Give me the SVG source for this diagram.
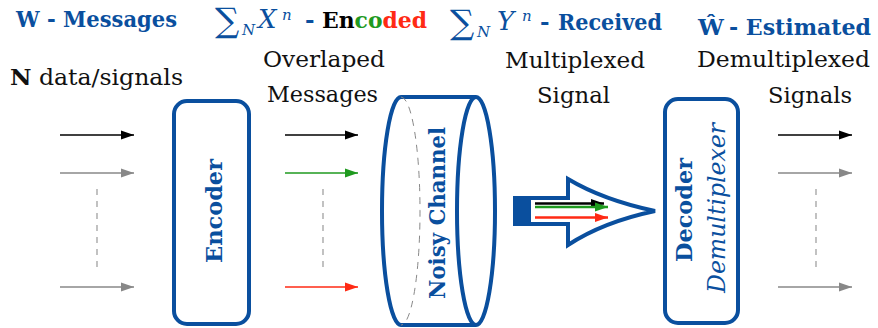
<svg xmlns="http://www.w3.org/2000/svg" width="878" height="328" viewBox="0 0 878 328">
  <defs>
    <style>
      .ttl { font-family: "DejaVu Serif", "Liberation Serif", serif; font-weight: bold; font-size: 23px; fill: #0a4f9e; }
      .mth { font-family: "DejaVu Serif", "Liberation Serif", serif; fill: #0a4f9e; }
      .it { font-style: italic; }
      .txt { font-family: "DejaVu Serif", "Liberation Serif", serif; font-size: 22px; fill: #111; }
      .lbl { font-family: "DejaVu Serif", "Liberation Serif", serif; font-weight: bold; font-size: 23px; fill: #0a4f9e; }
      .box { fill: #fff; stroke: #0a4f9e; stroke-width: 4; }
      .sig { fill: none; stroke-width: 1.6; }
      .dash { fill: none; stroke: #999; stroke-width: 1.2; stroke-dasharray: 6 6; }
    </style>
    <marker id="hk" markerUnits="userSpaceOnUse" markerWidth="14" markerHeight="12" refX="13" refY="6" orient="auto">
      <path d="M0,1.5 L13,6 L0,10.5 Z" fill="#000"/>
    </marker>
    <marker id="hg" markerUnits="userSpaceOnUse" markerWidth="14" markerHeight="12" refX="13" refY="6" orient="auto">
      <path d="M0,1.5 L13,6 L0,10.5 Z" fill="#888"/>
    </marker>
    <marker id="hn" markerUnits="userSpaceOnUse" markerWidth="14" markerHeight="12" refX="13" refY="6" orient="auto">
      <path d="M0,1.5 L13,6 L0,10.5 Z" fill="#1f9a1f"/>
    </marker>
    <marker id="hr" markerUnits="userSpaceOnUse" markerWidth="14" markerHeight="12" refX="13" refY="6" orient="auto">
      <path d="M0,1.5 L13,6 L0,10.5 Z" fill="#ff2a14"/>
    </marker>
  </defs>

  <rect width="878" height="328" fill="#fff"/>

  <!-- stage headings -->
  <g id="headings">
    <text class="ttl" x="16" y="27" textLength="161" lengthAdjust="spacingAndGlyphs">W - Messages</text>

    <text class="mth" x="215" y="32" font-size="34">∑</text>
    <text class="mth it" x="242" y="35" font-size="15">N</text>
    <text class="mth it" x="258" y="28" font-size="26">X</text>
    <text class="mth it" x="282" y="20" font-size="15">n</text>
    <text class="ttl" x="305" y="28">-</text>
    <text class="ttl" x="322" y="28" textLength="105" lengthAdjust="spacingAndGlyphs"><tspan fill="#000">En</tspan><tspan fill="#1f9a1f">co</tspan><tspan fill="#ff2a14">ded</tspan></text>

    <text class="mth" x="450" y="34" font-size="34">∑</text>
    <text class="mth it" x="477" y="37" font-size="15">N</text>
    <text class="mth it" x="497" y="30" font-size="26">Y</text>
    <text class="mth it" x="522" y="21" font-size="15">n</text>
    <text class="ttl" x="540" y="30">-</text>
    <text class="ttl" x="558" y="30" textLength="104" lengthAdjust="spacingAndGlyphs">Received</text>

    <text class="ttl" x="698" y="35">Ŵ</text>
    <text class="ttl" x="729" y="35" textLength="142" lengthAdjust="spacingAndGlyphs">- Estimated</text>
  </g>

  <!-- descriptive captions -->
  <g id="captions">
    <text class="txt" x="10" y="85" textLength="173" lengthAdjust="spacingAndGlyphs"><tspan font-weight="bold">N</tspan> data/signals</text>
    <text class="txt" x="263" y="67" textLength="122" lengthAdjust="spacingAndGlyphs">Overlaped</text>
    <text class="txt" x="267" y="102" textLength="111" lengthAdjust="spacingAndGlyphs">Messages</text>
    <text class="txt" x="505" y="68" textLength="140" lengthAdjust="spacingAndGlyphs">Multiplexed</text>
    <text class="txt" x="537" y="103" textLength="73" lengthAdjust="spacingAndGlyphs">Signal</text>
    <text class="txt" x="697" y="67" textLength="173" lengthAdjust="spacingAndGlyphs">Demultiplexed</text>
    <text class="txt" x="768" y="103" textLength="84" lengthAdjust="spacingAndGlyphs">Signals</text>
  </g>

  <!-- encoder block -->
  <g id="encoder">
    <rect class="box" x="174" y="101" width="75" height="223" rx="13"/>
    <text class="lbl" transform="translate(222,211) rotate(-90)" text-anchor="middle" textLength="104" lengthAdjust="spacingAndGlyphs">Encoder</text>
  </g>

  <!-- noisy channel drawn as a cylinder lying on its side -->
  <g id="channel">
    <path d="M401,97 L476,97 M401,325 L476,325" fill="none" stroke="#0a4f9e" stroke-width="4"/>
    <path d="M401,97 A19,114 0 0 0 401,325" fill="#fff" stroke="#0a4f9e" stroke-width="4"/>
    <path d="M401,97 A19,114 0 0 1 401,325" fill="none" stroke="#888" stroke-width="1" stroke-dasharray="7 6"/>
    <ellipse cx="476" cy="211" rx="19" ry="114" fill="#fff" stroke="#0a4f9e" stroke-width="4"/>
    <text class="lbl" transform="translate(445,213) rotate(-90)" text-anchor="middle" font-size="24" textLength="172" lengthAdjust="spacingAndGlyphs">Noisy Channel</text>
  </g>

  <!-- decoder / demultiplexer block -->
  <g id="decoder">
    <rect class="box" x="665" y="99" width="73" height="224" rx="13"/>
    <text class="lbl" transform="translate(692,210) rotate(-90)" text-anchor="middle" textLength="104" lengthAdjust="spacingAndGlyphs">Decoder</text>
    <text class="mth it" transform="translate(725,208) rotate(-90)" text-anchor="middle" font-size="24" textLength="170" lengthAdjust="spacingAndGlyphs">Demultiplexer</text>
  </g>

  <!-- signal connectors -->
  <g id="connectors">
    <!-- inputs -->
    <line class="sig" x1="60" y1="135" x2="134" y2="135" stroke="#000" marker-end="url(#hk)"/>
    <line class="sig" x1="60" y1="173" x2="134" y2="173" stroke="#888" marker-end="url(#hg)"/>
    <line class="sig" x1="60" y1="287" x2="134" y2="287" stroke="#888" marker-end="url(#hg)"/>
    <line class="dash" x1="97" y1="189" x2="97" y2="272"/>

    <!-- encoded streams -->
    <line class="sig" x1="285" y1="135" x2="358" y2="135" stroke="#000" stroke-width="2" marker-end="url(#hk)"/>
    <line class="sig" x1="285" y1="173" x2="358" y2="173" stroke="#1f9a1f" stroke-width="2" marker-end="url(#hn)"/>
    <line class="sig" x1="285" y1="287" x2="358" y2="287" stroke="#ff2a14" stroke-width="2" marker-end="url(#hr)"/>
    <line class="dash" x1="323" y1="189" x2="323" y2="272"/>

    <!-- multiplexed signal: hollow block arrow carrying the three streams -->
    <g id="multiplexed">
      <rect x="513" y="196" width="20" height="30" fill="#0a4f9e"/>
      <path d="M531,198 L568,198 L568,179 Q603,200 655,211 Q603,222 568,245 L568,224 L531,224" fill="#fff" stroke="#0a4f9e" stroke-width="4" stroke-linejoin="miter"/>
      <line x1="535" y1="203.5" x2="604" y2="203.5" stroke="#000" stroke-width="2.5" marker-end="url(#hk)"/>
      <line x1="535" y1="207" x2="608" y2="207" stroke="#1f9a1f" stroke-width="2.5" marker-end="url(#hn)"/>
      <line x1="535" y1="217.5" x2="608" y2="217.5" stroke="#ff2a14" stroke-width="2.5" marker-end="url(#hr)"/>
    </g>

    <!-- outputs -->
    <line class="sig" x1="778" y1="135" x2="852" y2="135" stroke="#000" marker-end="url(#hk)"/>
    <line class="sig" x1="778" y1="173" x2="852" y2="173" stroke="#888" marker-end="url(#hg)"/>
    <line class="sig" x1="778" y1="287" x2="852" y2="287" stroke="#888" marker-end="url(#hg)"/>
    <line class="dash" x1="816" y1="189" x2="816" y2="272"/>
  </g>
</svg>
